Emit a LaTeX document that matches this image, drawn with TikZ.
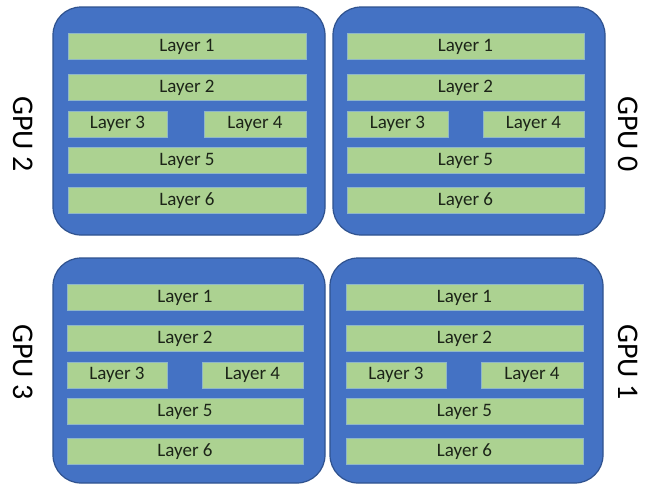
\documentclass[tikz,border=0pt]{standalone}
\usepackage{fontspec}
\setmainfont{Carlito}
\usetikzlibrary{positioning}
\definecolor{boxblue}{HTML}{4472C4}
\definecolor{boxedge}{HTML}{2F528F}
\definecolor{bargreen}{HTML}{ACD291}
\definecolor{baredge}{HTML}{8FB7C8}
\definecolor{txt}{HTML}{1C2418}
\tikzset{
  gpubox/.style={draw=boxedge, line width=1.2pt, fill=boxblue, rounded corners=28pt},
  bar/.style={draw=baredge, line width=0.8pt, fill=bargreen, inner sep=0pt, minimum height=26pt,
    font=\fontsize{19}{19}\selectfont, text=txt},
  gpulabel/.style={font=\fontsize{30}{30}\selectfont, text=black, inner sep=0pt}
}
% #1 name, #2 box left, #3 box top, #4 box right, #5 box bottom,
% #6 bar left, #7 bar right, #8 layer3 right, #9 layer4 left
\newcommand\gpuunit[9]{%
  \draw[gpubox] (#2,#3) rectangle (#4,#5);
  \coordinate (#1box) at ({(#2+#4)/2},{(#3+#5)/2});
  \node[bar, minimum width={(#7-#6)*1pt}] (#1l1) at ({(#6+#7)/2},{#3+39.5}) {Layer 1};
  \node[bar, minimum width={(#7-#6)*1pt}] (#1l2) at ({(#6+#7)/2},{#3+80.5}) {Layer 2};
  \node[bar, minimum width={(#8-#6)*1pt}] (#1l3) at ({(#6+#8)/2},{#3+117}) {Layer 3};
  \node[bar, minimum width={(#7-#9)*1pt}] (#1l4) at ({(#9+#7)/2},{#3+117}) {Layer 4};
  \node[bar, minimum width={(#7-#6)*1pt}] (#1l5) at ({(#6+#7)/2},{#3+153.5}) {Layer 5};
  \node[bar, minimum width={(#7-#6)*1pt}] (#1l6) at ({(#6+#7)/2},{#3+193.5}) {Layer 6};
}
\begin{document}
\begin{tikzpicture}[x=1pt,y=-1pt]
  \useasboundingbox (0,0) rectangle (646,485);
  \fill[white] (0,0) rectangle (646,485);
  \gpuunit{gputwo}{53}{7}{325}{235}{68}{306}{167}{204}
  \gpuunit{gpuzero}{333}{7}{605}{235}{347}{584}{448}{483}
  \gpuunit{gputhree}{53}{258}{325}{483}{67}{303}{167}{202}
  \gpuunit{gpuone}{330}{258}{603}{483}{346}{583}{446}{481}
  \node[gpulabel, rotate=-90] (lab2) at (23,134) {GPU 2};
  \node[gpulabel, rotate=-90] (lab0) at (628,134) {GPU 0};
  \node[gpulabel, rotate=-90] (lab3) at (23,362) {GPU 3};
  \node[gpulabel, rotate=-90] (lab1) at (628,362) {GPU 1};
\end{tikzpicture}
\end{document}
